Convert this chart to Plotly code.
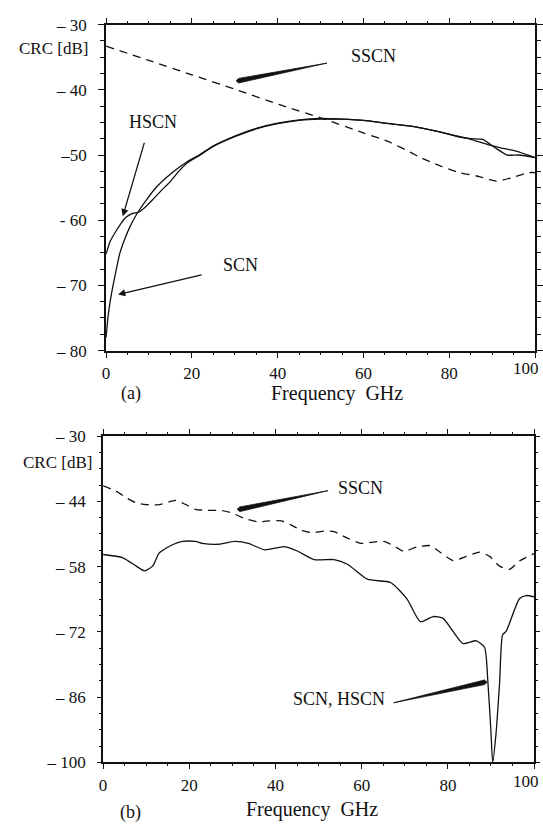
import plotly.graph_objects as go

# ---------------- data: panel (a) ----------------
a_scn_f = [0, 0.5, 1, 1.6, 2.4, 3.2, 4.3, 5.5, 6.6, 7.8, 9.5, 11.5, 14, 16.2, 19, 21.7, 25, 30, 35, 40,
           45, 50, 55, 60, 65, 70, 73, 78, 82, 85, 89, 92, 95.6, 100]
a_scn_db = [-78, -74.6, -72.3, -70.1, -67.5, -65.1, -63.0, -61.1, -59.7, -58.4, -56.8, -55.1, -53.5, -52.3,
            -51.0, -50.0, -48.6, -47.1, -45.9, -45.1, -44.6, -44.4, -44.5, -44.7, -45.1, -45.5, -45.8, -46.5,
            -47.1, -47.6, -48.4, -48.9, -49.4, -50.4]
a_hscn_f = [0, 1, 2.3, 3.5, 4.6, 6, 7.8, 9.3, 10.8, 12.8, 14.8, 17.1, 19, 21.7, 25, 30, 35, 40, 45, 50,
            55, 60, 65, 70, 73, 78, 82, 85, 87.8, 90.5, 93.5, 96.3, 100]
a_hscn_db = [-65.2, -63.2, -61.7, -60.5, -59.6, -59.0, -58.7, -57.9, -56.9, -55.5, -54.2, -52.4, -51.2, -50.1,
             -48.7, -47.2, -46.0, -45.2, -44.7, -44.5, -44.5, -44.7, -45.1, -45.5, -45.8, -46.5, -47.2, -47.5,
             -47.6, -48.8, -50.0, -50.0, -50.4]
a_sscn_f = [0, 10, 20, 30, 41, 50, 60, 66, 71, 73, 78, 82.4, 87, 91, 95, 98.6, 100]
a_sscn_db = [-33.3, -35.5, -37.7, -39.9, -42.4, -44.3, -46.6, -48.0, -49.6, -50.3, -51.7, -52.7, -53.3, -54.0,
             -53.4, -52.7, -52.7]

# ---------------- data: panel (b) ----------------
b_sscn_f = [0, 3, 5.5, 7.6, 10, 13, 16.8, 19, 21.4, 23.8, 27.6, 29.9, 32.9, 36.0, 38.3, 41.4, 43.7, 46.0,
            48.3, 51.3, 53.6, 56.7, 59.8, 62.1, 65.1, 67.4, 69.7, 72.8, 75.9, 78.2, 81.2, 84.3, 87.4, 89.7,
            92.0, 94.3, 96.6, 100]
b_sscn_db = [-40.7, -41.8, -43.3, -44.3, -44.7, -44.7, -43.8, -44.6, -45.7, -45.9, -46.0, -46.5, -47.7, -48.4,
             -48.2, -48.2, -49.1, -50.2, -50.7, -50.4, -50.5, -51.9, -53.0, -52.8, -52.6, -53.5, -54.7, -53.8,
             -53.5, -54.9, -56.7, -55.8, -54.9, -55.8, -57.9, -58.6, -56.8, -55.2]
b_scn_f = [0, 4.6, 7.7, 9.6, 11.5, 13.0, 16.1, 18.4, 21.4, 23.0, 26.8, 30.6, 33.7, 37.5, 42.1, 45.2, 49.0,
           53.6, 56.7, 61.3, 66.7, 70.5, 73.6, 76.6, 78.9, 81.2, 83.5, 86.6, 88.5, 89.3, 90.0, 90.4, 91.2,
           92.0, 92.7, 93.5, 96.6, 98.1, 100]
b_scn_db = [-55.4, -56.1, -57.9, -58.9, -57.9, -55.1, -53.3, -52.6, -52.6, -53.0, -53.2, -52.6, -53.0, -54.4,
            -53.7, -54.7, -56.5, -56.5, -57.5, -60.7, -61.4, -64.9, -69.8, -68.7, -69.1, -71.9, -74.5, -73.9,
            -75.3, -83.0, -93.5, -100.0, -93.5, -83.0, -72.6, -71.9, -64.9, -64.2, -64.5]

a_ytick_vals = [-30, -40, -50, -60, -70, -80]
a_ytick_text = ["– 30", "– 40", "–50", "- 60", "– 70", "– 80"]
b_ytick_vals = [-30, -44, -58, -72, -86, -100]
b_ytick_text = ["– 30", "– 44", "– 58", "– 72", "– 86", "– 100"]
x_tick_vals = [0, 20, 40, 60, 80, 100]
x_tick_text = ["0", "20", "40", "60", "80", ""]   # "100" drawn as a separate label (shifted left, as in source)

W, H = 543, 836
FONT = "Liberation Serif, Times New Roman, serif"
BLACK = "#111111"

fig = go.Figure()
line_solid = dict(color=BLACK, width=1.3, shape="spline", smoothing=0.6)
line_dash = dict(color=BLACK, width=1.3, dash="8px,6px", shape="spline", smoothing=0.6)

fig.add_trace(go.Scatter(x=a_sscn_f, y=a_sscn_db, mode="lines", line=line_dash, xaxis="x", yaxis="y"))
fig.add_trace(go.Scatter(x=a_scn_f, y=a_scn_db, mode="lines", line=line_solid, xaxis="x", yaxis="y"))
fig.add_trace(go.Scatter(x=a_hscn_f, y=a_hscn_db, mode="lines", line=line_solid, xaxis="x", yaxis="y"))
fig.add_trace(go.Scatter(x=b_sscn_f, y=b_sscn_db, mode="lines", line=line_dash, xaxis="x2", yaxis="y2"))
fig.add_trace(go.Scatter(x=b_scn_f, y=b_scn_db, mode="lines", line=line_solid, xaxis="x2", yaxis="y2"))


def px_x(p):
    return p / W


def px_y(p):
    return 1 - p / H


common_x = dict(range=[0, 100], showline=True, linewidth=2, linecolor=BLACK, mirror="ticks",
                ticks="outside", ticklen=5, tickwidth=1.3, tickcolor=BLACK,
                tickvals=x_tick_vals, ticktext=x_tick_text, showgrid=False, zeroline=False,
                tickfont=dict(family=FONT, size=17, color=BLACK), ticklabelstandoff=1,
                minor=dict(dtick=5, tick0=0, ticks="outside", ticklen=2, tickwidth=1.3,
                           tickcolor=BLACK, showgrid=False))

fig.update_layout(
    width=W, height=H, margin=dict(l=0, r=0, t=0, b=0),
    paper_bgcolor="white", plot_bgcolor="white", showlegend=False,
    xaxis=dict(domain=[px_x(103), px_x(536)], anchor="y", **common_x),
    xaxis2=dict(domain=[px_x(100), px_x(535)], anchor="y2", **common_x),
    yaxis=dict(domain=[px_y(349.5), px_y(16)], anchor="x", range=[-80, -30], showline=True, linewidth=2,
               linecolor=BLACK, mirror="ticks", ticks="outside", ticklen=6, tickwidth=1.3,
               tickcolor=BLACK, tickvals=a_ytick_vals, ticktext=a_ytick_text, showgrid=False,
               zeroline=False, tickfont=dict(family=FONT, size=17, color=BLACK), ticklabelstandoff=8,
               minor=dict(dtick=2.5, tick0=-30, ticks="outside", ticklen=4, tickwidth=1.3,
                          tickcolor=BLACK, showgrid=False)),
    yaxis2=dict(domain=[px_y(771), px_y(437)], anchor="x2", range=[-100, -30], showline=True, linewidth=2,
                linecolor=BLACK, mirror="ticks", ticks="outside", ticklen=4, tickwidth=1.3,
                tickcolor=BLACK, tickvals=b_ytick_vals, ticktext=b_ytick_text, showgrid=False,
                zeroline=False, tickfont=dict(family=FONT, size=17, color=BLACK), ticklabelstandoff=8,
                minor=dict(dtick=3.5, tick0=-30, ticks="outside", ticklen=2, tickwidth=1.3,
                           tickcolor=BLACK, showgrid=False)),
)

ann = []


def text_paper(txt, x, y, size=16, xanchor="center"):
    ann.append(dict(text=txt, x=px_x(x), y=px_y(y), xref="paper", yref="paper", showarrow=False,
                    xanchor=xanchor, yanchor="middle", font=dict(family=FONT, size=size, color=BLACK)))


def text_data(txt, x, y, xr, yr, size=18):
    ann.append(dict(text=txt, x=x, y=y, xref=xr, yref=yr, showarrow=False, xanchor="center",
                    yanchor="middle", font=dict(family=FONT, size=size, color=BLACK)))


text_paper("CRC [dB]", 87, 40, 17, "right")
text_paper("CRC [dB]", 91, 464, 17, "right")
text_paper("(a)", 128, 393, 18)
text_paper("Frequency  GHz", 336, 393, 20)
text_paper("(b)", 128, 822, 18)
text_paper("Frequency  GHz", 311, 819, 20)
text_paper("100", 527, 368, 17)
text_paper("100", 527, 790, 17)

text_data("SSCN", 62.3, -34.8, "x", "y")
text_data("HSCN", 10.9, -44.9, "x", "y")
text_data("SCN", 31.4, -66.9, "x", "y")
text_data("SSCN", 59.8, -41.1, "x2", "y2")
text_data("SCN, HSCN", 54.7, -86.4, "x2", "y2")

# arrows (panel a)
ann.append(dict(x=3.9, y=-59.4, xref="x", yref="y", ax=22, ay=-75, text="", showarrow=True,
                arrowhead=2, arrowsize=1.2, arrowwidth=1.2, arrowcolor=BLACK))
ann.append(dict(x=2.8, y=-71.4, xref="x", yref="y", ax=85, ay=-20, text="", showarrow=True,
                arrowhead=2, arrowsize=1.2, arrowwidth=1.2, arrowcolor=BLACK))
fig.update_layout(annotations=ann)


def wedge(xt, yt, xn, yn, h, xr, yr):
    # thick end (xt, yt), thin end (xn, yn)
    path = (f"M {xn},{yn} L {xt},{yt + h} L {xt - 0.6 if xt < xn else xt + 0.6},{yt} "
            f"L {xt},{yt - h} Z")
    return dict(type="path", path=path, xref=xr, yref=yr, fillcolor=BLACK,
                line=dict(color=BLACK, width=0.8))


fig.update_layout(shapes=[
    wedge(30.9, -38.6, 51.5, -35.9, 0.35, "x", "y"),
    wedge(31.7, -45.7, 52.2, -41.7, 0.5, "x2", "y2"),
    wedge(88.5, -82.8, 67.4, -87.2, 0.5, "x2", "y2"),
])

fig.write_html("out.html")
